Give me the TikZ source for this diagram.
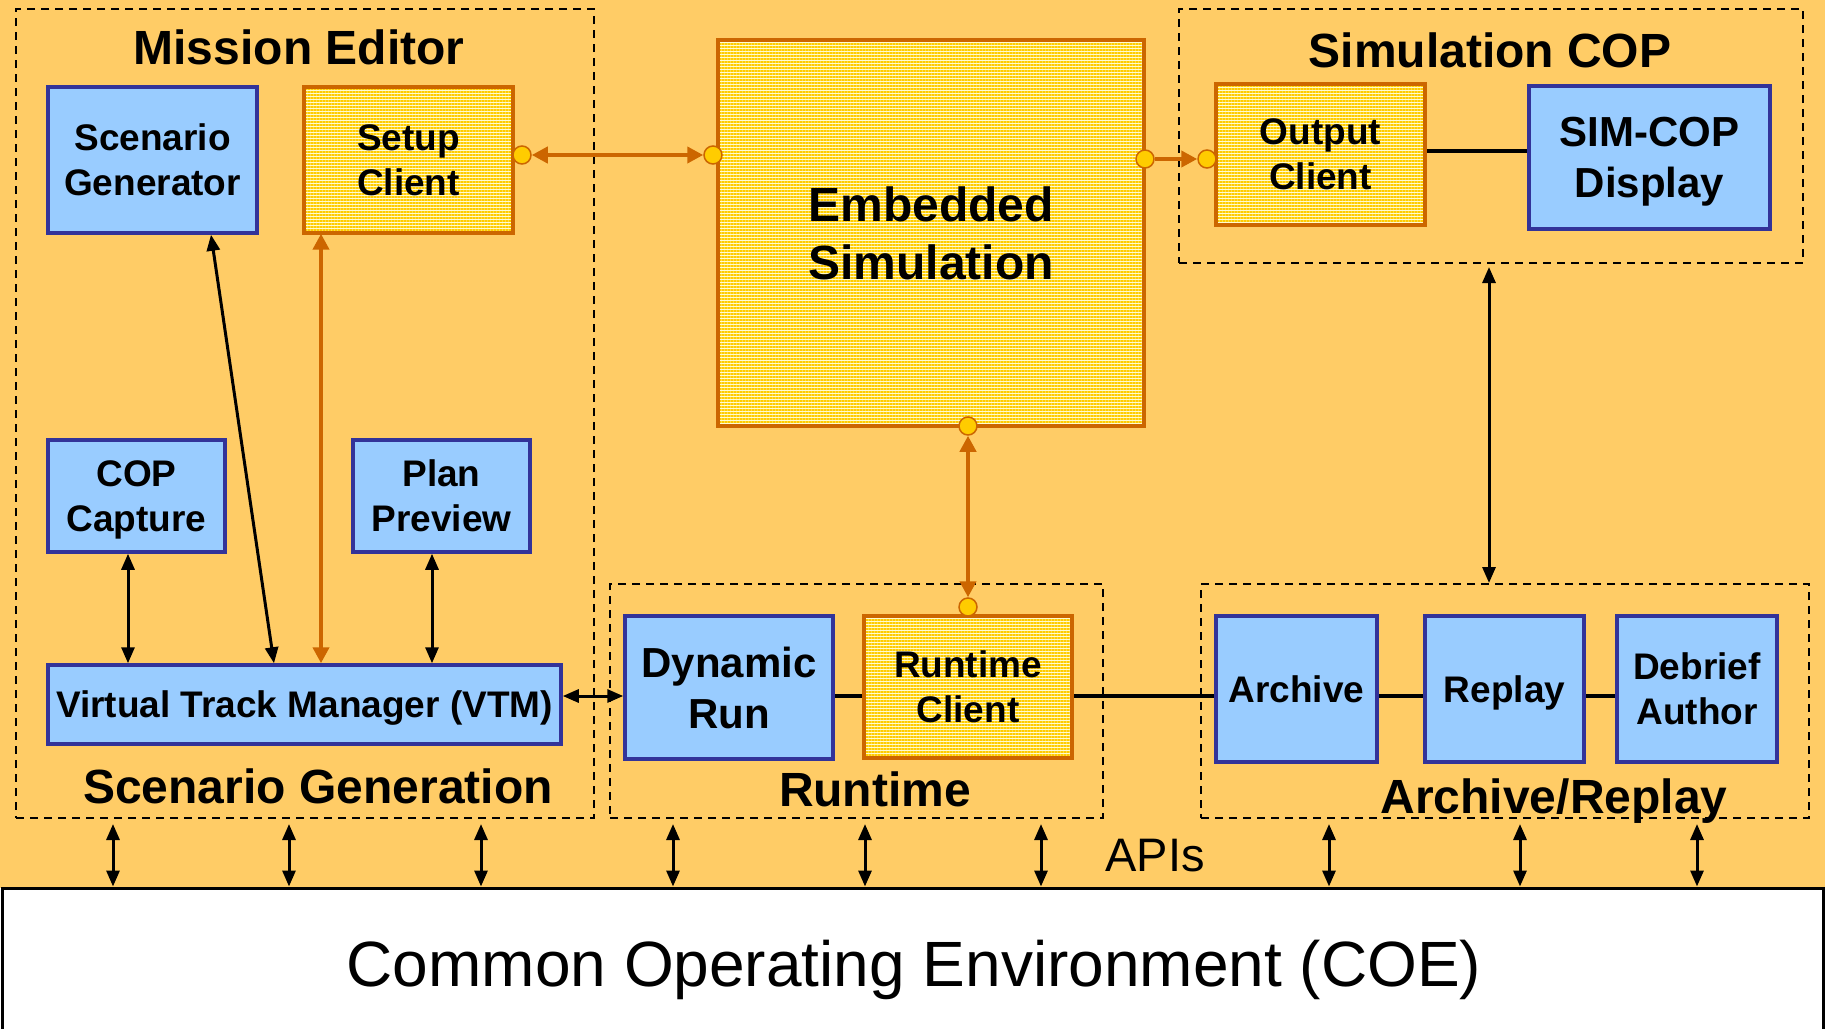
\documentclass[tikz,border=0pt]{standalone}
\usepackage{fontspec}
\setmainfont{Liberation Sans}
\usetikzlibrary{arrows.meta,patterns.meta}
\definecolor{bgorange}{HTML}{FFCC66}
\definecolor{boxblue}{HTML}{99CCFF}
\definecolor{bordblue}{HTML}{333399}
\definecolor{ostroke}{HTML}{CC6600}
\definecolor{ydot}{HTML}{FFCC00}
\definecolor{ylight}{HTML}{FFFBD0}
\begin{document}
\begin{tikzpicture}[x=1pt,y=-1pt,
  bluebox/.style={draw=bordblue,line width=3.5pt,fill=boxblue,inner sep=0pt,align=center,text depth=0pt,
    font=\bfseries\fontsize{37}{45}\selectfont},
  ybox/.style={draw=ostroke,line width=4pt,inner sep=0pt,align=center,text depth=0pt,
    font=\bfseries\fontsize{37}{45}\selectfont,
    preaction={fill=ylight},
    pattern={Lines[angle=0,distance=3pt,line width=1.4pt]},pattern color=ydot},
  grp/.style={draw=black,line width=2pt,dash pattern=on 8pt off 6pt,inner sep=0pt},
  ttl/.style={font=\bfseries\fontsize{48}{55}\selectfont,anchor=base,inner sep=0pt},
  odot/.style={circle,draw=ostroke,line width=1.5pt,fill=ydot,minimum size=18pt,inner sep=0pt},
  oone/.style={draw=ostroke,line width=4pt,-{Triangle[length=16pt,width=16pt]}},
  oboth/.style={draw=ostroke,line width=4pt,{Triangle[length=16pt,width=16pt]}-{Triangle[length=16pt,width=16pt]}},
  barr/.style={draw=black,line width=3pt,{Triangle[length=16pt,width=13pt]}-{Triangle[length=16pt,width=13pt]}},
  bline/.style={draw=black,line width=3.5pt}
]
\useasboundingbox (0,0) rectangle (1825,1028);
\fill[bgorange] (0,0) rectangle (1825,888);

% groups
\node[grp,minimum width=578pt,minimum height=809pt] (g1) at (305,413.5) {};
\node[grp,minimum width=624pt,minimum height=254pt] (g2) at (1491,136) {};
\node[grp,minimum width=493pt,minimum height=234pt] (g3) at (856.5,701) {};
\node[grp,minimum width=608pt,minimum height=234pt] (g4) at (1505,701) {};

% titles
\node[ttl] (t1) at (299,64) {Mission Editor};
\node[ttl] (t2) at (1490,67) {Simulation COP};
\node[ttl] (t3) at (318,803) {Scenario Generation};
\node[ttl] (t4) at (875,806) {Runtime};
\node[ttl] (t5) at (1554,813) {Archive/Replay};

% boxes
\node[bluebox,minimum width=209pt,minimum height=146pt] (scen) at (152.5,160) {Scenario\\Generator};
\node[ybox,minimum width=209pt,minimum height=146pt] (setup) at (408.5,160) {Setup\\Client};
\node[bluebox,minimum width=177pt,minimum height=112pt] (cop) at (136.5,496) {COP\\Capture};
\node[bluebox,minimum width=177pt,minimum height=112pt] (plan) at (441.5,496) {Plan\\Preview};
\node[bluebox,minimum width=513pt,minimum height=79pt] (vtm) at (304.5,704.5) {Virtual Track Manager (VTM)};
\node[ybox,minimum width=426pt,minimum height=386pt,font=\bfseries\fontsize{48}{58}\selectfont] (emb) at (931,233) {Embedded\\Simulation};
\node[ybox,minimum width=209pt,minimum height=141pt] (outc) at (1320.5,154.5) {Output\\Client};
\node[bluebox,minimum width=241pt,minimum height=143pt,font=\bfseries\fontsize{42}{51}\selectfont] (simcop) at (1649.5,157.5) {SIM-COP\\Display};
\node[bluebox,minimum width=208pt,minimum height=143pt,font=\bfseries\fontsize{42}{51}\selectfont] (dyn) at (729,687.5) {Dynamic\\Run};
\node[ybox,minimum width=208pt,minimum height=142pt] (rtc) at (968,687) {Runtime\\Client};
\node[bluebox,minimum width=161pt,minimum height=146pt] (arch) at (1296.5,689) {Archive};
\node[bluebox,minimum width=159pt,minimum height=146pt] (repl) at (1504.5,689) {Replay};
\node[bluebox,minimum width=160pt,minimum height=146pt] (debr) at (1697,689) {Debrief\\Author};

% COE
\node[draw=black,fill=white,line width=3pt,minimum width=1821pt,minimum height=152pt,inner sep=0pt] (coe) at (912.5,964) {};
\node[font=\fontsize{64}{70}\selectfont,anchor=base,inner sep=0pt] (coetext) at (914,986) {Common Operating Environment (COE)};
\node[font=\fontsize{47}{55}\selectfont,anchor=base,inner sep=0pt] (apis) at (1155,871) {APIs};

% helper coordinates
\coordinate (yA) at (0,151);
\coordinate (yD) at (0,696);

% orange connection dots
\node[odot] (d1) at (522,155) {};
\node[odot] (d2) at (713,155) {};
\node[odot] (d3) at (1145,159) {};
\node[odot] (d4) at (1207,159) {};
\node[odot] (d5) at (968,426) {};
\node[odot] (d6) at (968,607) {};

\draw[oboth] (d1.east) -- (d2.west);
\draw[oone] (d3.east) -- (d4.west);
\draw[oboth] (d5.south) -- (d6.north);
\draw[oboth] ([xshift=-87.5pt]setup.south) -- ([xshift=-87.5pt]setup.south |- vtm.north);

% black connectors
\draw[barr] ([xshift=58.5pt]scen.south) -- ([xshift=-30.5pt]vtm.north);
\draw[barr] ([xshift=-8.5pt]cop.south) -- ([xshift=-8.5pt]cop.south |- vtm.north);
\draw[barr] ([xshift=-9.5pt]plan.south) -- ([xshift=-9.5pt]plan.south |- vtm.north);
\draw[barr] (vtm.east |- yD) -- (dyn.west |- yD);
\draw[bline] (dyn.east |- yD) -- (rtc.west |- yD);
\draw[bline] (rtc.east |- yD) -- (arch.west |- yD);
\draw[bline] (arch.east |- yD) -- (repl.west |- yD);
\draw[bline] (repl.east |- yD) -- (debr.west |- yD);
\draw[bline] (outc.east |- yA) -- (simcop.west |- yA);
\draw[barr] ([xshift=-2pt,yshift=-3pt]g2.south) -- ([xshift=-2pt]g2.south |- g4.north);

% API arrows
\foreach \x [count=\i] in {113,289,481,673,865,1041,1329,1520,1697} {
  \coordinate (api\i) at (\x,824);
  \draw[barr] (api\i) -- (api\i |- coe.north);
}
\end{tikzpicture}
\end{document}
